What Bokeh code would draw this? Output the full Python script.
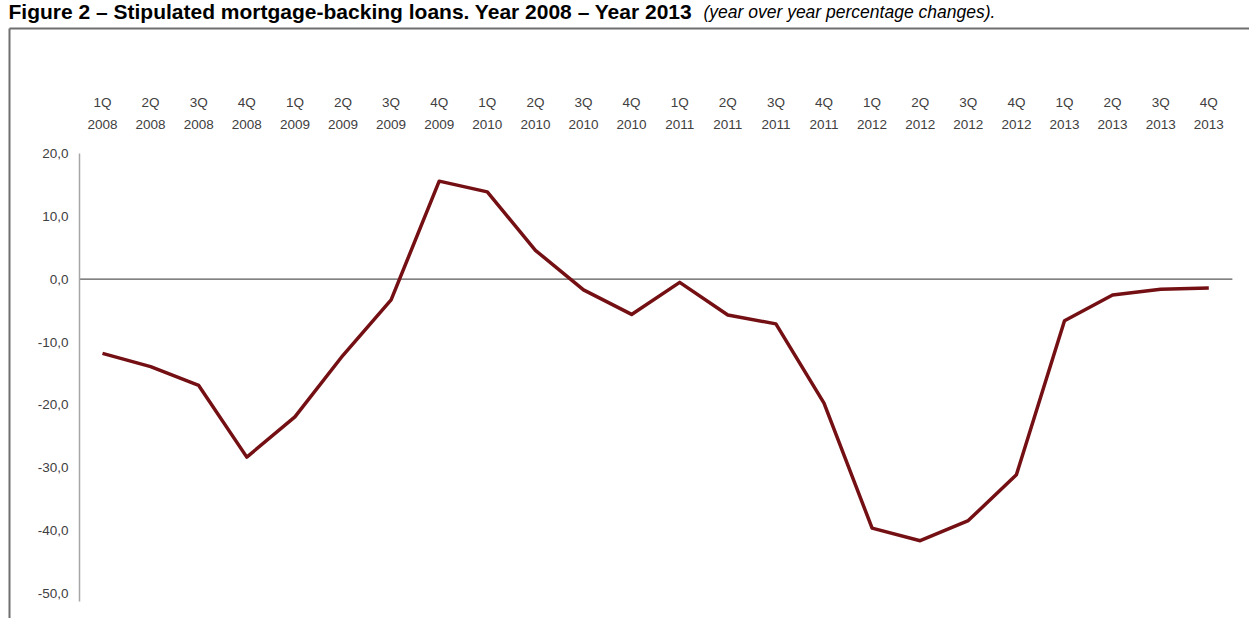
from bokeh.plotting import figure
from bokeh.models import Range1d, LinearAxis, FixedTicker
from bokeh.core.properties import value
from bokeh.embed import file_html
from bokeh.resources import INLINE

# ---- data -------------------------------------------------------------
periods = ["1Q\n2008", "2Q\n2008", "3Q\n2008", "4Q\n2008",
           "1Q\n2009", "2Q\n2009", "3Q\n2009", "4Q\n2009",
           "1Q\n2010", "2Q\n2010", "3Q\n2010", "4Q\n2010",
           "1Q\n2011", "2Q\n2011", "3Q\n2011", "4Q\n2011",
           "1Q\n2012", "2Q\n2012", "3Q\n2012", "4Q\n2012",
           "1Q\n2013", "2Q\n2013", "3Q\n2013", "4Q\n2013"]
values = [-11.8, -13.9, -16.9, -28.3,
          -21.9, -12.1, -3.3, 15.6,
          13.9, 4.6, -1.7, -5.6,
          -0.5, -5.7, -7.1, -19.7,
          -39.6, -41.6, -38.4, -31.1,
          -6.6, -2.5, -1.6, -1.4]
y_ticks = [20, 10, 0, -10, -20, -30, -40, -50]
y_tick_labels = ["20,0", "10,0", "0,0", "-10,0", "-20,0", "-30,0", "-40,0", "-50,0"]
title_bold = "Figure 2 \u2013 Stipulated mortgage-backing loans. Year 2008 \u2013 Year 2013"
title_italic = "(year over year percentage changes)."

# ---- layout constants ---------------------------------------------------
FONT = "Liberation Sans"
W, H = 1249, 618
X0_PX, DX = 102.0, 48.1        # pixel of first category, px per category
Y20_PX, DY = 153.0, 6.286      # pixel of value 20, px per unit
X_START = -X0_PX / DX
X_END = (W - X0_PX) / DX
Y_END = 20 + Y20_PX / DY
Y_START = 20 - (H - Y20_PX) / DY


def X(px):
    return X_START + px / DX


def Y(py):
    return Y_END - py / DY


xs = list(range(len(values)))
x_lo = xs[0] - 0.48
x_hi = xs[-1] + 0.49
y_lo, y_hi = -51.3, 20.0

p = figure(width=W, height=H, output_backend="svg", toolbar_location=None,
           x_range=Range1d(X_START, X_END), y_range=Range1d(Y_START, Y_END),
           x_axis_location=None, y_axis_location=None,
           min_border_left=0, min_border_right=0,
           min_border_top=0, min_border_bottom=0)
p.background_fill_color = "white"
p.border_fill_color = "white"
p.outline_line_color = None
p.xgrid.visible = False
p.ygrid.visible = False

# outer border (top and left edges)
p.segment(x0=[X(9), X(9)], y0=[Y(28), Y(28)], x1=[X(W + 5), X(9)],
          y1=[Y(28), Y(H + 5)], line_color="#6f6f6f", line_width=2)

# title
p.text(x=[X(8)], y=[Y(11)], text=[title_bold], text_font=value(FONT),
       text_font_style="bold", text_font_size="21px", text_color="#000000",
       text_baseline="alphabetic", text_align="left")
p.text(x=[X(703)], y=[Y(11)], text=[title_italic], text_font=value(FONT),
       text_font_style="italic", text_font_size="17.5px", text_color="#000000",
       text_baseline="alphabetic", text_align="left")

# left value axis
ya = LinearAxis(fixed_location=x_lo, bounds=(y_lo, y_hi),
                ticker=FixedTicker(ticks=y_ticks),
                major_label_overrides={t: l for t, l in zip(y_ticks, y_tick_labels)})
ya.axis_line_color = "#a6a6a6"
ya.axis_line_width = 1.5
ya.major_tick_line_color = None
ya.minor_tick_line_color = None
ya.major_label_standoff = 5
ya.major_label_text_font = FONT
ya.major_label_text_font_size = "13.5px"
ya.major_label_text_color = "#404040"
p.add_layout(ya, "left")

# top category axis
xa = LinearAxis(fixed_location=y_hi, ticker=FixedTicker(ticks=xs),
                major_label_overrides={i: s for i, s in zip(xs, periods)})
xa.axis_line_color = None
xa.major_tick_line_color = None
xa.minor_tick_line_color = None
xa.major_label_standoff = 16
xa.major_label_text_font = FONT
xa.major_label_text_font_size = "13.5px"
xa.major_label_text_color = "#404040"
xa.major_label_text_line_height = 1.45
p.add_layout(xa, "above")

# zero line
p.segment(x0=[x_lo], y0=[0], x1=[x_hi], y1=[0], line_color="#595959",
          line_width=1.2)

# series
p.line(xs, values, line_color="#741014", line_width=3.5, line_join="round")

open("out.html", "w").write(file_html(p, INLINE))
